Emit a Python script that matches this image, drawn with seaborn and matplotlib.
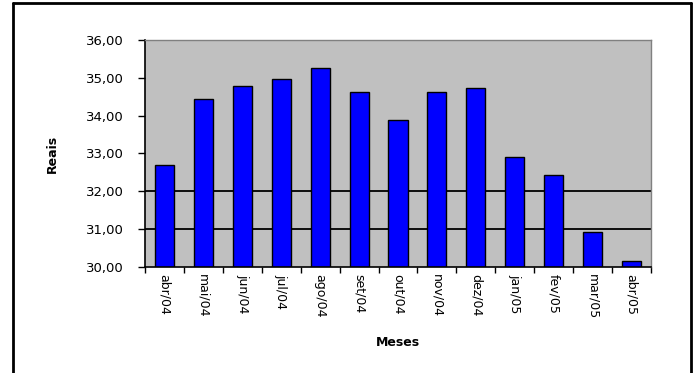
import matplotlib
matplotlib.use("Agg")
import matplotlib.pyplot as plt
from matplotlib.lines import Line2D
import seaborn as sns
import pandas as pd
import numpy as np

# Monthly values (R$), Apr/2004 - Apr/2005
meses = ["abr/04", "mai/04", "jun/04", "jul/04", "ago/04", "set/04", "out/04",
         "nov/04", "dez/04", "jan/05", "fev/05", "mar/05", "abr/05"]
reais = [32.70, 34.45, 34.78, 34.97, 35.25, 34.62, 33.88,
         34.62, 34.73, 32.90, 32.43, 30.92, 30.17]
y_ticks = [30, 31, 32, 33, 34, 35, 36]
grid_lines = [31, 32]

df = pd.DataFrame({"Meses": meses, "Reais": reais})

sns.set_theme(style="white")
plt.rcParams["font.family"] = ["DejaVu Sans"]
plt.rcParams.update({"text.color": "black", "axes.labelcolor": "black",
                     "xtick.color": "black", "ytick.color": "black"})

fig = plt.figure(figsize=(6.96, 3.73), dpi=100)
ax = fig.add_axes([0.2083, 0.2842, 0.727, 0.6086])
ax.set_facecolor("#C0C0C0")

for g in grid_lines:
    ax.axhline(g, color="black", lw=1.3, zorder=0.5)

sns.barplot(data=df, x="Meses", y="Reais", color="#0000FF", saturation=1,
            width=0.49, edgecolor="black", linewidth=1.0, ax=ax, zorder=2)

ax.set_ylim(30, 36)
ax.set_xlim(-0.5, len(meses) - 0.5)
ax.set_yticks(y_ticks)
ax.set_yticklabels([f"{v:.2f}".replace(".", ",") for v in y_ticks], fontsize=9.5)
ax.set_xticks(range(len(meses)))
ax.set_xticklabels(meses, rotation=-90, fontsize=9)
ax.set_xticks(np.arange(-0.5, len(meses), 1.0), minor=True)
ax.tick_params(axis="x", which="major", length=0, pad=5)
ax.tick_params(axis="x", which="minor", length=4, width=1, color="black",
               direction="out", bottom=True)
ax.tick_params(axis="y", length=5, width=1, color="black", direction="out",
               left=True, pad=10)

ax.set_xlabel("Meses", fontsize=9, fontweight="bold", labelpad=12)
ax.set_ylabel("Reais", fontsize=9, fontweight="bold", labelpad=20)

for side in ("left", "bottom"):
    ax.spines[side].set_color("black")
    ax.spines[side].set_linewidth(1.2)
for side in ("top", "right"):
    ax.spines[side].set_color("#808080")
    ax.spines[side].set_linewidth(1.0)

# Outer chart frame
W, H = 696, 373
fx = lambda px: px / W
fy = lambda py: 1 - py / H
frame_kw = dict(color="black", lw=2, transform=fig.transFigure)
fig.add_artist(Line2D([fx(13), fx(13)], [fy(3), 0], **frame_kw))
fig.add_artist(Line2D([fx(13), fx(691)], [fy(3), fy(3)], **frame_kw))
fig.add_artist(Line2D([fx(691), fx(691)], [fy(3), 0], **frame_kw))

fig.savefig("out.png", dpi=100, facecolor="white")
